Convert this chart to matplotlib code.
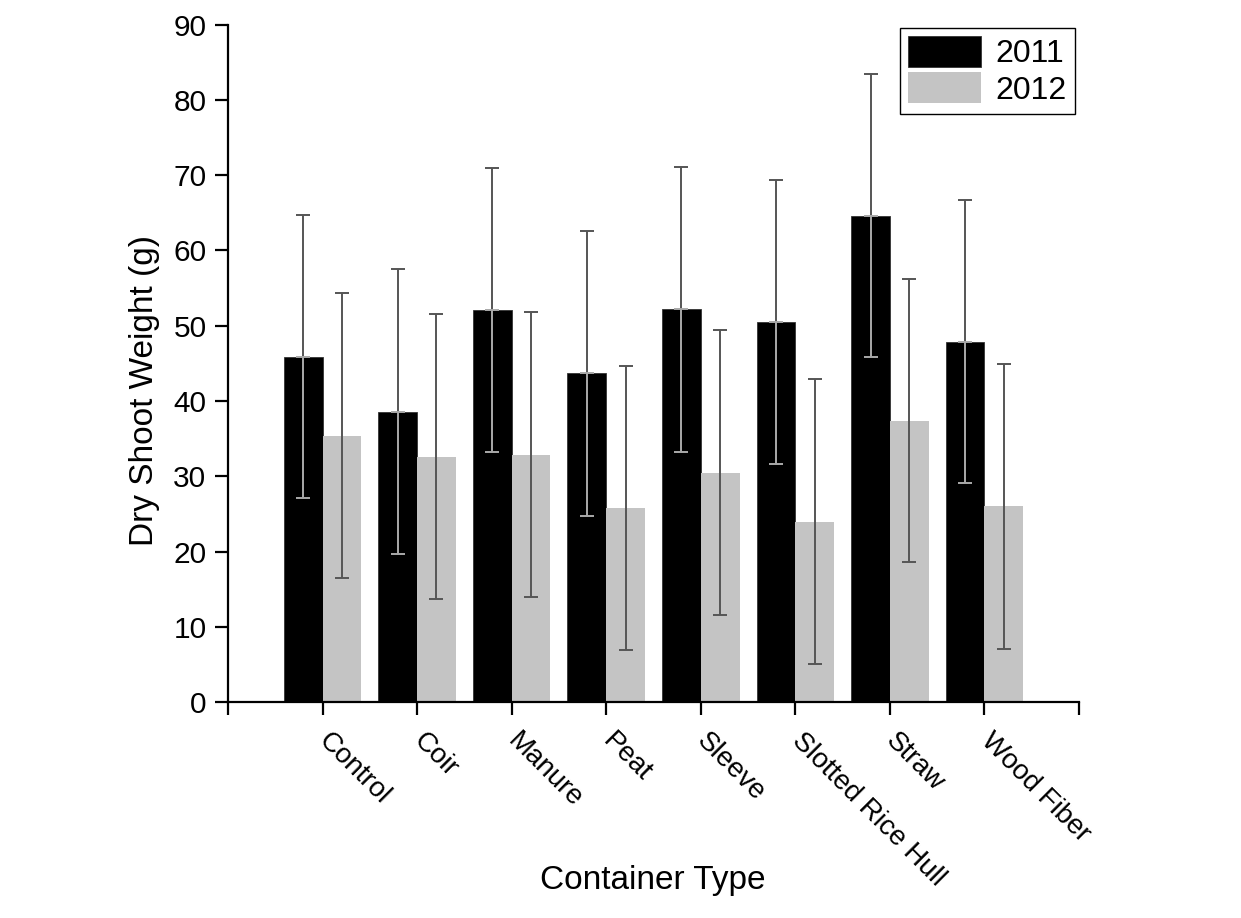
import matplotlib
matplotlib.use("Agg")
import matplotlib.pyplot as plt
import numpy as np

plt.rcParams["font.family"] = ["Liberation Sans", "DejaVu Sans"]

containers = ["Control", "Coir", "Manure", "Peat", "Sleeve",
              "Slotted Rice Hull", "Straw", "Wood Fiber"]
weight_2011 = [45.9, 38.6, 52.1, 43.7, 52.2, 50.5, 64.6, 47.9]
weight_2012 = [35.4, 32.6, 32.9, 25.8, 30.5, 24.0, 37.4, 26.0]
err_2011 = [18.8, 18.9, 18.9, 18.9, 18.9, 18.8, 18.8, 18.8]
err_2012 = [18.9, 18.9, 18.9, 18.9, 18.9, 18.9, 18.8, 18.9]

fig = plt.figure(figsize=(12.41, 9.18), dpi=100)
ax = fig.add_axes([0.1837, 0.235, 0.6858, 0.7382])

x = np.arange(1, len(containers) + 1)
w = 0.41

ax.bar(x - w / 2, weight_2011, w, color="black", edgecolor="#333333", linewidth=0.6, label="2011")
ax.bar(x + w / 2, weight_2012, w, color="#c4c4c4", linewidth=0, label="2012")

ekw = dict(fmt="none", elinewidth=1.4, capsize=4.7, capthick=1.4)
ax.errorbar(x - w / 2, weight_2011, yerr=err_2011, ecolor="#555555", **ekw)
ax.errorbar(x + w / 2, weight_2012, yerr=err_2012, ecolor="#555555", **ekw)
# lower whisker sits on the black bars, so draw it lighter
ax.errorbar(x - w / 2, weight_2011, yerr=[err_2011, np.zeros(len(x))],
            ecolor="#a8a8a8", **ekw)

ax.set_xlim(0, 9)
ax.set_ylim(0, 90)
ax.set_yticks(np.arange(0, 91, 10))
ax.set_xticks(np.arange(0, 10))
ax.set_xticklabels([""] * 10)
for xi, name in zip(x, containers):
    ax.text(xi + 0.1, -3.4, name, rotation=-45, rotation_mode="anchor",
            ha="left", va="top", fontsize=20)

for side in ["top", "right"]:
    ax.spines[side].set_visible(False)
for side in ["left", "bottom"]:
    ax.spines[side].set_linewidth(1.6)
ax.tick_params(axis="both", direction="out", length=9.5, width=1.6, labelsize=21.5, pad=6)

fig.text(145 / 1241, 1 - 390 / 918, "Dry Shoot Weight (g)", rotation=90,
         ha="center", va="center", fontsize=24)
fig.text(653 / 1241, 1 - 880 / 918, "Container Type", ha="center", va="center", fontsize=24)

leg = ax.legend(loc="upper right", bbox_to_anchor=(1075 / 1241, 1 - 28 / 918),
                bbox_transform=fig.transFigure, borderaxespad=0, fontsize=23,
                handlelength=2.3, handleheight=1.1, labelspacing=0.1,
                borderpad=0.25, handletextpad=0.45, fancybox=False, framealpha=1)
leg.get_frame().set_edgecolor("black")
leg.get_frame().set_linewidth(1.0)

fig.savefig("out.png", dpi=100)
